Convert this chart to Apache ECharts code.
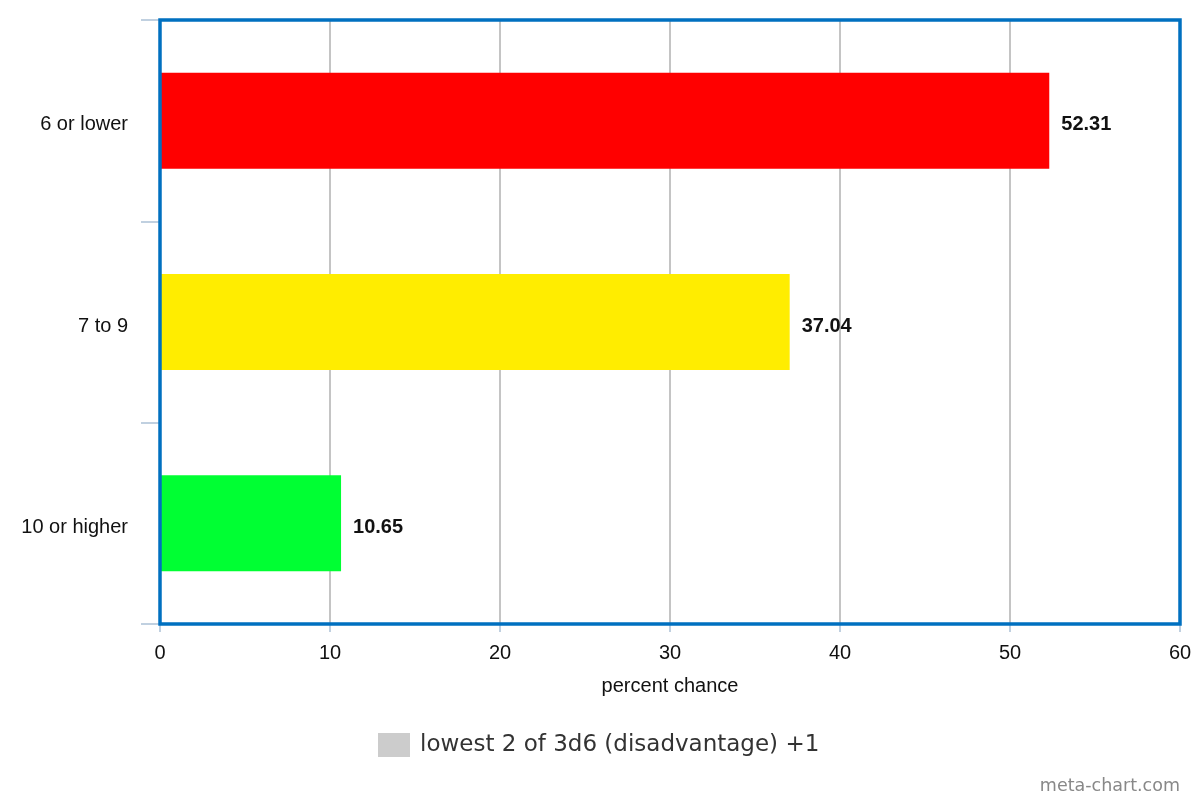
<!DOCTYPE html>
<html>
<head>
<meta charset="utf-8">
<script src="https://cdn.jsdelivr.net/npm/echarts@6/dist/echarts.min.js"></script>
<style>
  html, body { margin: 0; padding: 0; background: #fff; }
  #chart { width: 1200px; height: 800px; }
</style>
</head>
<body>
<div id="chart"></div>
<script>
// data
const categories = ["6 or lower", "7 to 9", "10 or higher"];
const values = [52.31, 37.04, 10.65];
const barColors = ["#ff0000", "#ffed00", "#00ff33"];
const seriesName = "lowest 2 of 3d6 (disadvantage) +1";

const chart = echarts.init(document.getElementById("chart"));

const option = {
  backgroundColor: "#fff",
  animation: false,
  grid: {
    left: 160,
    right: 20,
    top: 20,
    bottom: 176,
    show: true,
    z: 5,
    borderColor: "#0070c0",
    borderWidth: 3.5
  },
  legend: {
    bottom: 38,
    left: 373,
    itemWidth: 32,
    itemHeight: 24,
    itemGap: 10,
    textStyle: { fontFamily: "DejaVu Sans", fontSize: 23, color: "#333", padding: [0, 0, 0, 5] },
    data: [{ name: seriesName, icon: "rect" }]
  },
  xAxis: {
    type: "value",
    min: 0,
    max: 60,
    interval: 10,
    name: "percent chance",
    nameLocation: "middle",
    nameGap: 52,
    nameTextStyle: { fontFamily: "Liberation Sans", fontSize: 20, color: "#111" },
    axisLine: { show: false },
    axisTick: { show: true, length: 8, lineStyle: { color: "#c0d0e0", width: 2 } },
    axisLabel: { margin: 19, fontFamily: "Liberation Sans", fontSize: 20, color: "#111" },
    splitLine: { show: true, showMinLine: false, showMaxLine: false, lineStyle: { color: "#c4c4c4", width: 2 } }
  },
  yAxis: {
    type: "category",
    data: categories,
    inverse: true,
    offset: 3,
    z: -1,
    axisLine: { show: true, lineStyle: { color: "#c0d0e0", width: 2 } },
    axisTick: { show: true, length: 19, alignWithLabel: false, lineStyle: { color: "#c0d0e0", width: 2 } },
    axisLabel: {
      margin: 29,
      fontFamily: "Liberation Sans",
      fontSize: 20,
      color: "#111",
      formatter: (v) => "{a|" + v + "}",
      rich: { a: { fontFamily: "Liberation Sans", fontSize: 20, color: "#111", lineHeight: 20, padding: [8, 0, 0, 0] } }
    },
    splitLine: { show: false }
  },
  series: [
    {
      name: seriesName,
      type: "bar",
      barWidth: 96,
      itemStyle: { color: "#cccccc" },
      label: {
        show: true,
        position: "right",
        distance: 12,
        offset: [0, 4],
        fontFamily: "Liberation Sans",
        fontSize: 20,
        fontWeight: "bold",
        color: "#111",
        formatter: (p) => p.value.toFixed(2)
      },
      data: values.map((v, i) => ({ value: v, itemStyle: { color: barColors[i] } }))
    }
  ],
  graphic: [
    {
      type: "text",
      right: 20,
      bottom: 5,
      style: { text: "meta-chart.com", fontFamily: "DejaVu Sans", fontSize: 17.5, fill: "#888" }
    }
  ]
};

chart.setOption(option);
</script>
</body>
</html>
